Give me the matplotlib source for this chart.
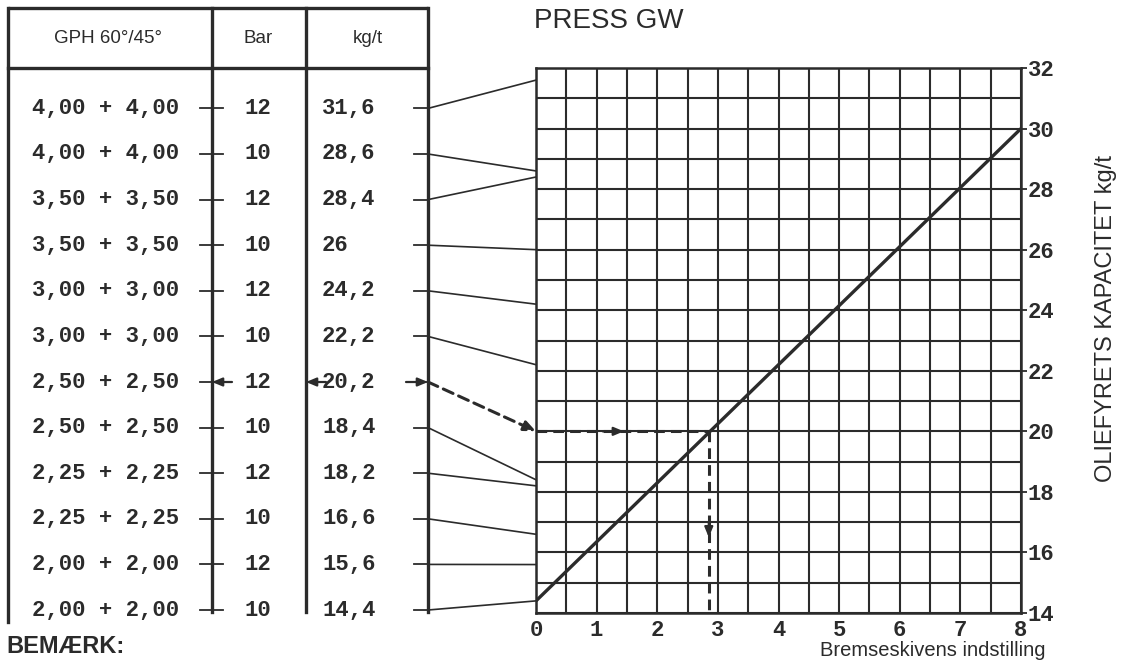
import numpy as np
import matplotlib.pyplot as plt
from matplotlib.patches import ConnectionPatch

# table rows
gph = ['4,00 + 4,00', '4,00 + 4,00', '3,50 + 3,50', '3,50 + 3,50',
       '3,00 + 3,00', '3,00 + 3,00', '2,50 + 2,50', '2,50 + 2,50',
       '2,25 + 2,25', '2,25 + 2,25', '2,00 + 2,00', '2,00 + 2,00']
bar = ['12', '10', '12', '10', '12', '10', '12', '10', '12', '10', '12', '10']
kgt_labels = ['31,6', '28,6', '28,4', '26', '24,2', '22,2',
              '20,2', '18,4', '18,2', '16,6', '15,6', '14,4']
kgt = [31.6, 28.6, 28.4, 26.0, 24.2, 22.2, 20.2, 18.4, 18.2, 16.6, 15.6, 14.4]

# characteristic line: brake disc setting -> capacity
setting = [0, 8]
capacity = [14.4, 30.0]

# worked example (dashed path)
example_row = 6
example_capacity = 20.0
example_setting = 2.85

ink = '#2b2b2b'
mono = 'Liberation Mono'
sans = 'Liberation Sans'

fig = plt.figure(figsize=(11.24, 6.62), dpi=100)

# ---- left table, x in pixels from left, y in row index
tab = fig.add_axes([0, 0, 440 / 1124, 1])
tab.set_xlim(0, 440)
tab.set_ylim(12.14, -2.377)
tab.axis('off')

rows = np.arange(len(gph))
top, head, bot = -2.20, -0.886, 11.04
x_left, x_bar, x_kg, x_right = 8, 212, 306, 428

lw_tab = 2.4
tab.plot([x_left, x_right], [top, top], color=ink, lw=lw_tab, solid_capstyle='butt')
tab.plot([x_left, x_right], [head, head], color=ink, lw=lw_tab)
tab.plot([x_left, x_left], [top, 11.26], color=ink, lw=lw_tab)
for xx in (x_bar, x_kg, x_right):
    tab.plot([xx, xx], [top, bot], color=ink, lw=lw_tab)

tab.text(108, -1.54, 'GPH 60°/45°', ha='center', va='center', family=sans, fontsize=13.5, color=ink)
tab.text(258, -1.54, 'Bar', ha='center', va='center', family=sans, fontsize=13.5, color=ink)
tab.text(368, -1.54, 'kg/t', ha='center', va='center', family=sans, fontsize=13.5, color=ink)

for r in rows:
    tab.text(106, r, gph[r], ha='center', va='center', family=mono, fontweight='bold',
             fontsize=16, color=ink)
    tab.text(258, r, bar[r], ha='center', va='center', family=mono, fontweight='bold',
             fontsize=16, color=ink)
    tab.text(322, r, kgt_labels[r], ha='left', va='center', family=mono, fontweight='bold',
             fontsize=16, color=ink)
    tab.plot([200, 223], [r, r], color=ink, lw=1.3)
    tab.plot([414, x_right], [r, r], color=ink, lw=1.3)

arrow_kw = dict(arrowstyle='-|>,head_length=0.6,head_width=0.25', color=ink, lw=1.6,
                shrinkA=0, shrinkB=0)
tab.annotate('', xy=(x_bar, example_row), xytext=(232, example_row), arrowprops=arrow_kw)
tab.annotate('', xy=(x_kg, example_row), xytext=(326, example_row), arrowprops=arrow_kw)
tab.annotate('', xy=(x_right, example_row), xytext=(406, example_row), arrowprops=arrow_kw)

tab.text(6, 11.55, 'BEMÆRK:', ha='left', va='top', family=sans, fontweight='bold',
         fontsize=17, color=ink)

# ---- chart
ax = fig.add_axes([536 / 1124, 1 - 613 / 662, 485 / 1124, 545 / 662])
ax.set_xlim(0, 8)
ax.set_ylim(14, 32)
ax.set_xticks(np.arange(0, 9, 1))
ax.set_xticks(np.arange(0.5, 8, 1), minor=True)
ax.set_yticks(np.arange(14, 33, 2))
ax.set_yticks(np.arange(15, 32, 2), minor=True)
ax.yaxis.tick_right()
ax.grid(which='both', color=ink, lw=1.5)
ax.set_axisbelow(True)
for s in ax.spines.values():
    s.set_color(ink)
    s.set_linewidth(1.8)
ax.tick_params(axis='x', which='both', length=0, pad=5)
ax.tick_params(axis='y', which='major', length=4, width=1.3, pad=1, color=ink)
ax.tick_params(axis='y', which='minor', length=0)
for lab in ax.get_xticklabels() + ax.get_yticklabels():
    lab.set_fontfamily(mono)
    lab.set_fontweight('bold')
    lab.set_fontsize(16)
    lab.set_color(ink)

ax.plot(setting, capacity, color=ink, lw=2.4, solid_capstyle='butt')

# dashed example path inside the chart
dash = dict(color=ink, lw=2.2, ls=(0, (3.5, 2)))
ax.plot([0, example_setting], [example_capacity, example_capacity], **dash)
ax.plot([example_setting, example_setting], [example_capacity, 14], **dash)
ax.annotate('', xy=(1.45, example_capacity), xytext=(1.1, example_capacity), arrowprops=arrow_kw)
ax.annotate('', xy=(example_setting, 16.5), xytext=(example_setting, 17.0), arrowprops=arrow_kw)

ax.set_title('PRESS GW', loc='left', family=sans, fontsize=20, color=ink, pad=29, x=-0.005)
ax.text(1.05, -0.052, 'Bremseskivens indstilling', transform=ax.transAxes, ha='right',
        va='top', family=sans, fontsize=14.5, color=ink)
fig.text(1106 / 1124, 1 - 318 / 662, 'OLIEFYRETS KAPACITET kg/t', rotation=90, ha='center',
         va='center', family=sans, fontsize=17, color=ink)

# connectors from kg/t scale to the chart's left edge
for r in rows:
    if r == example_row:
        con = ConnectionPatch(xyA=(x_right, r), coordsA=tab.transData,
                              xyB=(0, example_capacity), coordsB=ax.transData,
                              color=ink, lw=2.2, ls=(0, (3.5, 2)),
                              arrowstyle='-|>,head_length=0.7,head_width=0.3')
    else:
        con = ConnectionPatch(xyA=(x_right, r), coordsA=tab.transData,
                              xyB=(0, kgt[r]), coordsB=ax.transData,
                              color=ink, lw=1.2)
    fig.add_artist(con)

fig.savefig('out.png', dpi=100, facecolor='white')
